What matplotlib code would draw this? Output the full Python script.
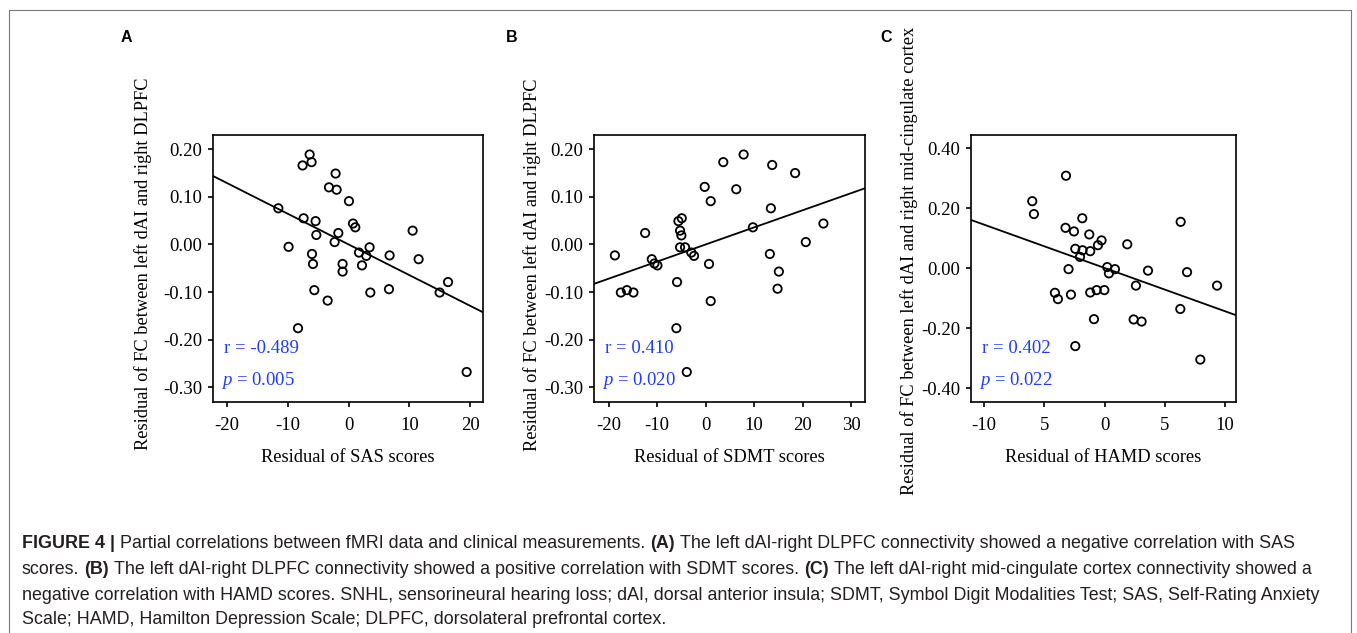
import numpy as np
import matplotlib
matplotlib.use("Agg")
import matplotlib.pyplot as plt
from matplotlib.lines import Line2D

plt.rcParams['font.family'] = ['Liberation Serif', 'DejaVu Serif']
plt.rcParams['axes.unicode_minus'] = False
plt.rcParams['mathtext.fontset'] = 'custom'
plt.rcParams['mathtext.rm'] = 'Liberation Serif'
plt.rcParams['mathtext.it'] = 'Liberation Serif:italic'

# panel A: residual SAS vs FC (dAI - right DLPFC)
sas_x = [-6.41, -7.57, -6.09, -2.14, -3.23, -1.97, 0.06, -11.56, -7.40, -5.43,
         0.72, 1.10, 10.53, -1.69, -5.31, -2.30, -9.87, 3.45, 1.71, -6.02,
         2.91, 6.74, 11.51, -5.86, -0.99, 2.20, -0.99, 16.35, -5.64, 6.64,
         3.57, 14.97, -3.45, -8.32, 19.41]
sas_y = [0.189, 0.166, 0.173, 0.149, 0.120, 0.115, 0.091, 0.076, 0.055, 0.049,
         0.044, 0.036, 0.029, 0.024, 0.020, 0.005, -0.005, -0.006, -0.017, -0.020,
         -0.024, -0.023, -0.031, -0.041, -0.041, -0.044, -0.057, -0.079, -0.096, -0.094,
         -0.101, -0.101, -0.118, -0.176, -0.268]

# panel B: residual SDMT vs FC (dAI - right DLPFC)
sdmt_x = [7.81, 3.62, 13.69, 18.41, -0.21, 6.29, 1.03, 13.42, -4.93, -5.62,
          24.24, 9.72, -12.47, -5.28, -5.01, 20.61, -5.28, -4.25, -18.70, -2.96,
          -2.40, 13.21, -11.10, -10.56, -9.94, 0.68, 15.06, -5.90, 14.79, -17.47,
          -16.23, -14.88, 1.03, -6.04, -3.90]
sdmt_y = [0.189, 0.173, 0.167, 0.150, 0.121, 0.116, 0.091, 0.076, 0.055, 0.049,
          0.044, 0.036, 0.024, 0.029, 0.019, 0.005, -0.006, -0.006, -0.023, -0.017,
          -0.024, -0.020, -0.031, -0.040, -0.044, -0.041, -0.057, -0.079, -0.093, -0.101,
          -0.096, -0.101, -0.119, -0.176, -0.268]

# panel C: residual HAMD vs FC (dAI - right mid-cingulate cortex)
hamd_x = [-3.20, -6.00, -5.86, -1.85, 6.31, -3.24, -2.54, -1.27, -0.25, -0.55,
          1.88, -2.43, -1.83, -1.19, -2.04, 0.22, 0.86, 0.36, -2.99, 3.60,
          6.84, 2.60, 9.33, -4.12, -3.87, -2.79, -1.19, -0.66, -0.02, 6.28,
          -0.88, 2.41, 3.07, -2.43, 7.94]
hamd_y = [0.309, 0.224, 0.181, 0.167, 0.155, 0.135, 0.123, 0.113, 0.093, 0.077,
          0.080, 0.065, 0.060, 0.057, 0.038, 0.004, -0.003, -0.017, -0.003, -0.008,
          -0.013, -0.058, -0.058, -0.082, -0.103, -0.088, -0.081, -0.073, -0.073, -0.136,
          -0.170, -0.171, -0.178, -0.260, -0.305]

# fit lines (slope, intercept)
fit_a = (-0.00645, 0.0)
fit_b = (0.0036, 0.0)
fit_c = (-0.01447, 0.001)

stats_a = ("-0.489", "0.005")
stats_b = ("0.410", "0.020")
stats_c = ("0.402", "0.022")

W, H = 1357, 633
fig = plt.figure(figsize=(W / 100, H / 100), dpi=100)

def fx(px):
    return px / W

def fy(py):
    return 1 - py / H

def panel(rect, xs, ys, fit, stats, xlim, ylim, xticks, xticklabels, yticks,
          xlabel, ylabel, ylab_pos, letter, letter_pos):
    l, r, t, b = rect
    ax = fig.add_axes([fx(l), fy(b), fx(r - l), (b - t) / H])
    ax.scatter(xs, ys, s=36, facecolors='none', edgecolors='black',
               linewidths=1.3, zorder=3)
    ax.axline((0, fit[1]), slope=fit[0], color='black', lw=1.3)
    ax.set_xlim(*xlim)
    ax.set_ylim(*ylim)
    ax.set_xticks(xticks)
    ax.set_xticklabels(xticklabels)
    ax.set_yticks(yticks)
    ax.set_yticklabels(['%.2f' % v for v in yticks])
    for s in ax.spines.values():
        s.set_linewidth(1.2)
    ax.tick_params(direction='out', length=3.5, width=1.2, labelsize=13.5, pad=4)
    ax.tick_params(axis='x', pad=8)
    ax.text(0.04, 0.2, 'r = ' + stats[0], transform=ax.transAxes,
            color='#1f3cff', fontsize=13.5, va='center')
    ax.text(0.03, 0.08, r'$p$ = ' + stats[1], transform=ax.transAxes,
            color='#1f3cff', fontsize=13.5, va='center')
    fig.text(fx((l + r) / 2), fy(457), xlabel, ha='center', va='center', fontsize=13.2)
    fig.text(fx(ylab_pos[0]), fy(ylab_pos[1]), ylabel, rotation=90,
             ha='center', va='center', fontsize=13.2)
    fig.text(fx(letter_pos[0]), fy(letter_pos[1]), letter, ha='center', va='center',
             fontsize=11.5, fontweight='bold', family='Liberation Sans')
    return ax

panel((213, 483, 135, 401.5), sas_x, sas_y, fit_a, stats_a,
      (-22.3, 22.1), (-0.33, 0.23), [-20, -10, 0, 10, 20],
      ['-20', '-10', '0', '10', '20'], [-0.3, -0.2, -0.1, 0.0, 0.1, 0.2],
      'Residual of SAS scores', 'Residual of FC between left dAI and right DLPFC',
      (143, 264), 'A', (126, 37))

panel((594, 865, 135, 401.5), sdmt_x, sdmt_y, fit_b, stats_b,
      (-23.0, 32.8), (-0.33, 0.23), [-20, -10, 0, 10, 20, 30],
      ['-20', '-10', '0', '10', '20', '30'], [-0.3, -0.2, -0.1, 0.0, 0.1, 0.2],
      'Residual of SDMT scores', 'Residual of FC between left dAI and right DLPFC',
      (532, 265), 'B', (512, 37))

panel((971, 1236, 135, 401.5), hamd_x, hamd_y, fit_c, stats_c,
      (-11.08, 10.9), (-0.445, 0.445), [-10, -5, 0, 5, 10],
      ['-10', '5', '0', '5', '10'], [-0.4, -0.2, 0.0, 0.2, 0.4],
      'Residual of HAMD scores',
      'Residual of FC between left dAI and right mid-cingulate cortex',
      (909, 261), 'C', (886, 37))

# outer frame: top, left and right edges
frame = Line2D([fx(8.5), fx(8.5), fx(1351), fx(1351)], [0, fy(10), fy(10), 0],
               transform=fig.transFigure, color='#7a7a7a', lw=0.8)
fig.lines.append(frame)

# caption, drawn run by run so the bold parts sit inline
cap_font = ['Liberation Sans Narrow', 'Liberation Sans']
cap_size = 12.9
caption = [
    [("FIGURE 4 |", True), ("Partial correlations between fMRI data and clinical measurements.", False),
     ("(A)", True), ("The left dAI-right DLPFC connectivity showed a negative correlation with SAS", False)],
    [("scores.", False), ("(B)", True),
     ("The left dAI-right DLPFC connectivity showed a positive correlation with SDMT scores.", False),
     ("(C)", True), ("The left dAI-right mid-cingulate cortex connectivity showed a", False)],
    [("negative correlation with HAMD scores. SNHL, sensorineural hearing loss; dAI, dorsal anterior "
      "insula; SDMT, Symbol Digit Modalities Test; SAS, Self-Rating Anxiety", False)],
    [("Scale; HAMD, Hamilton Depression Scale; DLPFC, dorsolateral prefrontal cortex.", False)],
]
line_y = [544, 569.5, 595, 620]
renderer = fig.canvas.get_renderer()
gap = cap_size * 100 / 72 * 0.278
for runs, y in zip(caption, line_y):
    x = 22
    for txt, bold in runs:
        t = fig.text(fx(x), fy(y), txt, ha='left', va='center', fontsize=cap_size,
                     family=cap_font, fontweight='bold' if bold else 'normal',
                     color='#231f20')
        x += t.get_window_extent(renderer).width + gap

fig.savefig('out.png', dpi=100)
